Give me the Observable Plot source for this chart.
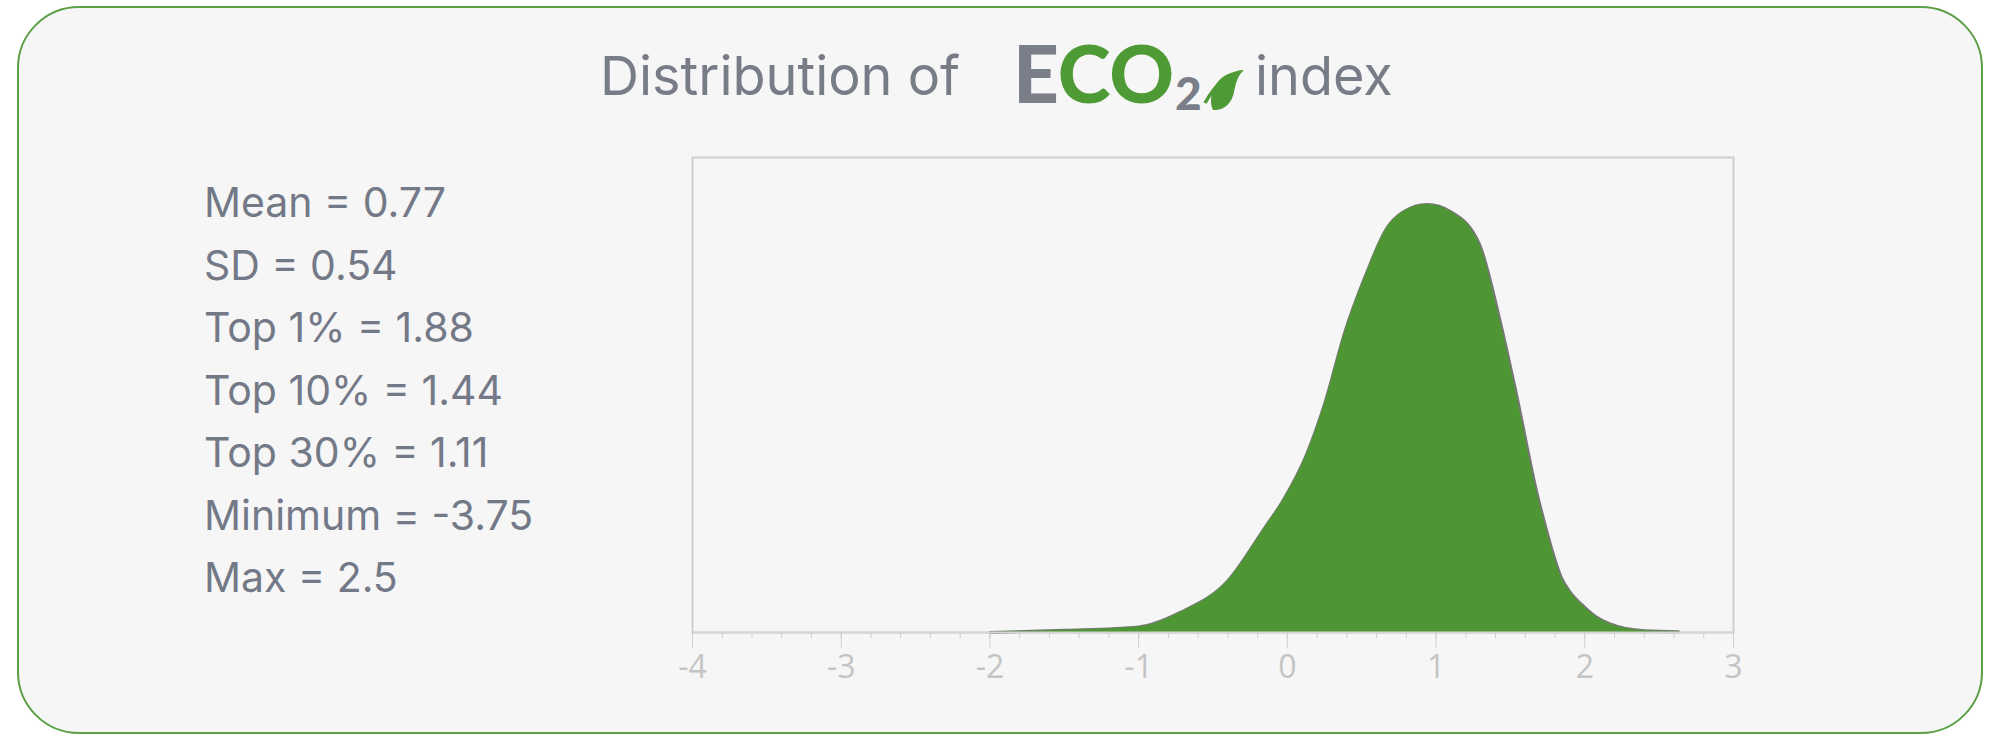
<!DOCTYPE html>
<html>
<head>
<meta charset="utf-8">
<script src="https://cdn.jsdelivr.net/npm/d3@7"></script>
<script src="https://cdn.jsdelivr.net/npm/@observablehq/plot@0.6"></script>
<style>
  html, body { margin: 0; padding: 0; background: #ffffff; width: 2000px; height: 752px; overflow: hidden; }
  #card { position: absolute; left: 17px; top: 6px; width: 1966px; height: 728px; box-sizing: border-box;
          border: 2px solid #5c9f47; border-radius: 62px; background: #f6f6f6; }
  .t { position: absolute; white-space: nowrap; line-height: 1; }
  .title { font-family: Inter, "Noto Sans", sans-serif; font-size: 54px; color: #777c87; }
  .logo { font-family: Lato, "Open Sans", sans-serif; font-weight: 900; font-size: 80px; }
  .stat { font-family: Inter, "Noto Sans", sans-serif; font-size: 41px; color: #737986; }
  #chart { position: absolute; left: 662px; top: 147px; }
</style>
</head>
<body>
<div id="card"></div>
<div class="t title" style="left:600px; top:49px;">Distribution of</div>
<div class="t logo" style="left:1013px; top:32px;"><span style="color:#7a7e89">E</span><span style="color:#4e9a34">CO</span></div>
<div class="t logo" style="left:1175px; top:70px; font-size:46px; color:#7a7e89;">2</div>
<svg style="position:absolute; left:1202px; top:66px;" width="44" height="46" viewBox="0 0 44 46">
  <path d="M11 44 C 6 33, 11 16, 24 9 C 30 6, 37 4, 42 4 C 36 9, 34 16, 32 26 C 30 37, 22 45, 11 44 Z" fill="#4e9a34"/>
  <path d="M3 37 C 8 28, 13 21, 20 15" stroke="#4e9a34" stroke-width="3.5" fill="none"/>
</svg>
<div class="t title" style="left:1255px; top:49px;">index</div>
<div id="stats"></div>
<div id="chart"></div>
<script>
// Summary statistics shown at the left
const statLabels = ["Mean = 0.77", "SD = 0.54", "Top 1% = 1.88", "Top 10% = 1.44", "Top 30% = 1.11", "Minimum = -3.75", "Max = 2.5"];

// Density curve (relative height, peak = 1)
const xValues = [-2.0, -1.5, -1.0, -0.72, -0.4, -0.15, -0.03, 0.13, 0.25, 0.39, 0.53, 0.66, 0.78, 0.94, 1.10, 1.29, 1.43, 1.54, 1.68, 1.75, 1.80, 1.84, 1.90, 1.98, 2.07, 2.17, 2.40, 2.63];
const densities = [0.0, 0.005, 0.013, 0.047, 0.121, 0.246, 0.308, 0.417, 0.534, 0.706, 0.838, 0.94, 0.983, 1.0, 0.983, 0.909, 0.729, 0.558, 0.324, 0.23, 0.17, 0.13, 0.095, 0.065, 0.038, 0.02, 0.004, 0.0015];

// Axis ticks
const majorTicks = [-4, -3, -2, -1, 0, 1, 2, 3];
const minorTicks = d3.range(-4, 3.0001, 0.2).map(v => Math.round(v * 10) / 10);

const statsDiv = document.getElementById("stats");
statLabels.forEach((s, i) => {
  const d = document.createElement("div");
  d.className = "t stat";
  d.style.left = "204px";
  d.style.top = (182 + i * 62.5) + "px";
  d.textContent = s;
  statsDiv.appendChild(d);
});

const data = xValues.map((x, i) => ({x, h: densities[i]}));

const chart = Plot.plot({
  width: 1101,
  height: 545,
  marginLeft: 30,
  marginRight: 30,
  marginTop: 10,
  marginBottom: 60,
  x: {domain: [-4, 3], label: null},
  y: {domain: [0, 1.11], axis: null, label: null},
  style: {background: "transparent", fontFamily: "'Open Sans', sans-serif", overflow: "visible"},
  marks: [
    Plot.frame({stroke: "#cfcfcf", strokeWidth: 2}),
    Plot.lineY(data, {x: "x", y: "h", stroke: "#777777", strokeWidth: 3, curve: "monotone-x"}),
    Plot.areaY(data, {x: "x", y: "h", fill: "#4e9634", curve: "monotone-x"}),
    Plot.ruleY([0], {stroke: "#d6d6d6", strokeWidth: 2}),
    Plot.axisX(minorTicks, {tickSize: 6, tickFormat: () => "", stroke: "#cfcfcf", label: null}),
    Plot.axisX(majorTicks, {tickSize: 16, tickPadding: 7, tickFormat: d => String(d), fontSize: 32,
      stroke: "#cfcfcf", fill: "#c4c4c4", label: null})
  ]
});
document.getElementById("chart").appendChild(chart);
</script>
</body>
</html>
